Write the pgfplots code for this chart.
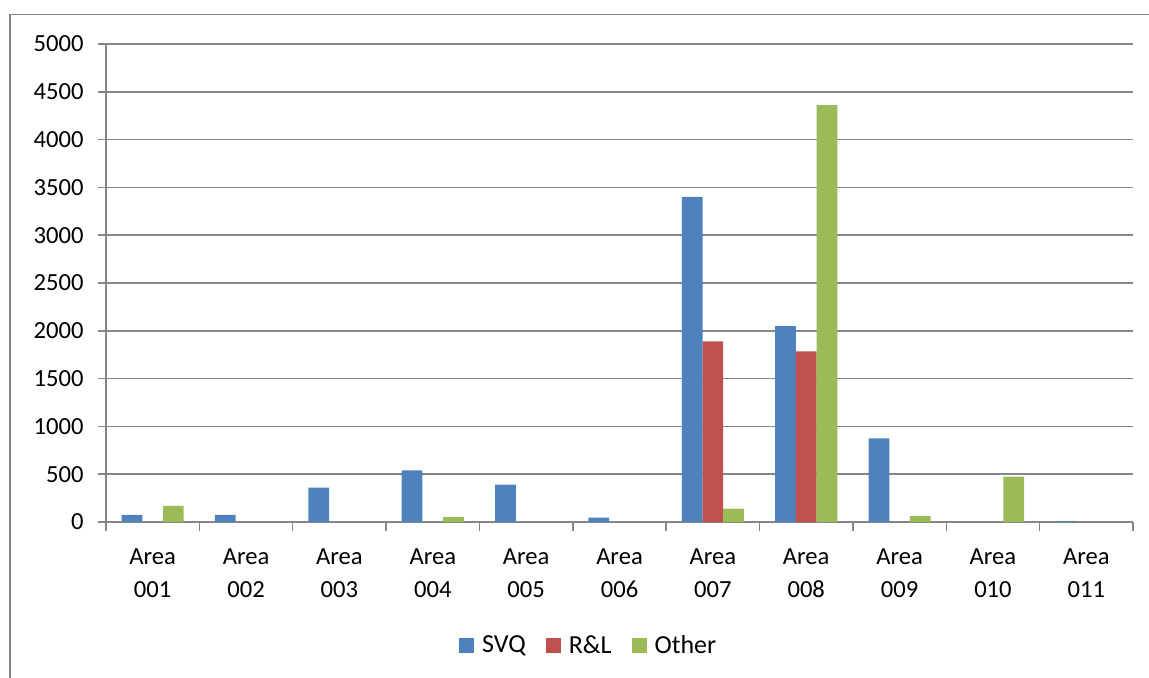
\documentclass[border=0pt]{standalone}
\usepackage{pgfplots}
\pgfplotsset{compat=1.18}
\usepackage{fontspec}
\setmainfont{Carlito}
\definecolor{svq}{HTML}{4F81BD}
\definecolor{rl}{HTML}{C0504D}
\definecolor{oth}{HTML}{9BBB59}
\definecolor{gridgray}{HTML}{868686}
\begin{document}
\begin{tikzpicture}
\path[use as bounding box] (0pt,0pt) rectangle (574.5pt,-339pt);
\draw[gridgray, line width=0.75pt] (5pt,-340pt) -- (5pt,-7.25pt) -- (575pt,-7.25pt);
\begin{axis}[
  at={(53pt,-261pt)}, anchor=south west,
  scale only axis, width=513.5pt, height=239pt,
  xmin=-0.5, xmax=10.5, ymin=0, ymax=5000,
  ytick distance=500,
  axis x line*=bottom, axis y line*=left,
  axis line style={-, draw=gridgray, line width=0.75pt},
  ymajorgrids, grid style={draw=gridgray, line width=0.75pt},
  tick align=outside,
  tick style={draw=gridgray, line width=0.75pt},
  major tick length=4pt, minor tick length=4.5pt,
  xtick={0,1,...,10},
  xticklabels={{Area\\001},{Area\\002},{Area\\003},{Area\\004},{Area\\005},{Area\\006},{Area\\007},{Area\\008},{Area\\009},{Area\\010},{Area\\011}},
  minor xtick={-0.5,0.5,...,10.5},
  every major x tick/.append style={draw=none},
  xticklabel style={align=center, anchor=north, inner sep=0pt, yshift=-9pt},
  yticklabel style={anchor=east, inner sep=0pt, xshift=-7pt},
  ticklabel style={font=\fontsize{12.3}{16.5}\selectfont},
  /pgf/number format/assume math mode=true,
  /pgf/number format/set thousands separator={},
  legend columns=3,
  legend style={at={(0.471,-0.259)}, anchor=center, draw=none, fill=none,
    font=\fontsize{13}{15}\selectfont,
    /tikz/every even column/.append style={column sep=8pt},
    inner sep=0pt, nodes={inner sep=2pt}},
  legend image code/.code={\fill[#1] (0pt,-3.75pt) rectangle (7.5pt,3.75pt); \path (9.5pt,0pt);},
]
\addplot[ybar, bar width=10.35pt, bar shift=-10.35pt, fill=svq, draw=none]
  coordinates {(0,75) (1,75) (2,360) (3,540) (4,390) (5,45) (6,3400) (7,2050) (8,875) (10,8)};
\addplot[ybar, bar width=10.35pt, bar shift=0pt, fill=rl, draw=none]
  coordinates {(6,1890) (7,1785)};
\addplot[ybar, bar width=10.35pt, bar shift=10.35pt, fill=oth, draw=none]
  coordinates {(0,170) (3,50) (6,140) (7,4360) (8,65) (9,475)};
\legend{SVQ, R\&L, Other}
\end{axis}
\end{tikzpicture}
\end{document}
